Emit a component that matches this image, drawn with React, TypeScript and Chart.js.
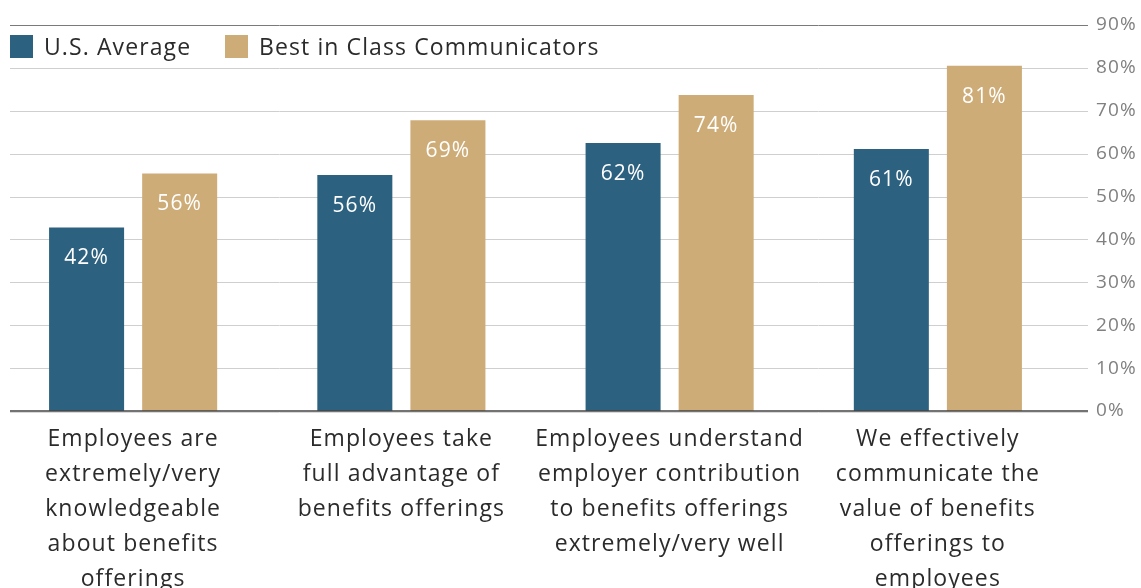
import React, { useEffect, useRef } from "react";
import { Chart, registerables } from "chart.js";

Chart.register(...registerables);

const categories: string[][] = [
  ["Employees are", "extremely/very", "knowledgeable", "about benefits", "offerings"],
  ["Employees take", "full advantage of", "benefits offerings"],
  ["Employees understand", "employer contribution", "to benefits offerings", "extremely/very well"],
  ["We effectively", "communicate the", "value of benefits", "offerings to", "employees"],
];
const seriesNames = ["U.S. Average", "Best in Class Communicators"];
const usAverage = [42.8, 55.0, 62.5, 61.1];
const bestInClass = [55.4, 67.8, 73.7, 80.5];
const usLabels = ["42%", "56%", "62%", "61%"];
const bestLabels = ["56%", "69%", "74%", "81%"];
const yMin = 0;
const yMax = 90;
const yStep = 10;

const NAVY = "#2C6180";
const TAN = "#CEAC77";
const FONT = "'Open Sans', Lato, sans-serif";

const CANVAS_W = 1142;
const CANVAS_H = 620;
const PLOT_BOTTOM = 411;
const PLOT_RIGHT = 1073;

const gridPlugin = {
  id: "customGrid",
  beforeDraw(chart: any) {
    chart.ctx.letterSpacing = "1.1px";
  },
  beforeDatasetsDraw(chart: any) {
    const { ctx } = chart;
    const y = chart.scales.y;
    ctx.save();
    y.ticks.forEach((t: any) => {
      const py = Math.round(y.getPixelForValue(t.value)) + 0.5;
      if (t.value === yMin) return;
      ctx.strokeStyle = t.value === yMax ? "#7a7a7a" : "#cfcfcf";
      ctx.lineWidth = 1;
      ctx.beginPath();
      ctx.moveTo(11, py);
      ctx.lineTo(1089, py);
      ctx.stroke();
    });
    ctx.restore();
  },
  afterDatasetsDraw(chart: any) {
    const { ctx } = chart;
    const y = chart.scales.y;
    const py = y.getPixelForValue(yMin);
    ctx.save();
    ctx.strokeStyle = "#d8d8d8";
    ctx.lineWidth = 1;
    ctx.beginPath();
    ctx.moveTo(11, py + 1.5);
    ctx.lineTo(1089, py + 1.5);
    ctx.stroke();
    ctx.strokeStyle = "#444444";
    ctx.lineWidth = 1.6;
    ctx.beginPath();
    ctx.moveTo(11, py);
    ctx.lineTo(1089, py);
    ctx.stroke();
    const labelSets = [usLabels, bestLabels];
    ctx.fillStyle = "#ffffff";
    ctx.font = `21px ${FONT}`;
    ctx.textAlign = "center";
    ctx.textBaseline = "middle";
    chart.data.datasets.forEach((_: any, di: number) => {
      const meta = chart.getDatasetMeta(di);
      meta.data.forEach((el: any, i: number) => {
        ctx.fillText(labelSets[di][i], el.x, el.y + 31);
      });
    });
    ctx.restore();
  },
  afterDraw(chart: any) {
    const { ctx } = chart;
    ctx.save();
    ctx.font = `23px ${FONT}`;
    ctx.textBaseline = "middle";
    ctx.textAlign = "left";
    const colors = [NAVY, TAN];
    const xs = [11, 226];
    seriesNames.forEach((name, i) => {
      ctx.fillStyle = colors[i];
      ctx.fillRect(xs[i], 35, 23, 23);
      ctx.fillStyle = "#2b2b2b";
      ctx.fillText(name, xs[i] + 34, 48);
    });
    ctx.restore();
  },
};

export default function App() {
  const ref = useRef<HTMLCanvasElement>(null);
  useEffect(() => {
    if (!ref.current) return;
    const chart = new Chart(ref.current, {
      type: "bar",
      data: {
        labels: categories,
        datasets: [
          {
            label: seriesNames[0],
            data: usAverage,
            backgroundColor: NAVY,
            categoryPercentage: 0.694,
            barPercentage: 0.806,
          },
          {
            label: seriesNames[1],
            data: bestInClass,
            backgroundColor: TAN,
            categoryPercentage: 0.694,
            barPercentage: 0.806,
          },
        ],
      },
      options: {
        responsive: false,
        animation: false,
        layout: { padding: { top: 25, left: 0, right: 0, bottom: 0 } },
        plugins: {
          legend: { display: false },
          tooltip: { enabled: false },
        },
        scales: {
          x: {
            grid: { display: false, drawTicks: false },
            border: { display: false },
            ticks: {
              color: "#2b2b2b",
              font: { family: FONT, size: 23, lineHeight: 35 / 23 },
              padding: 11,
              maxRotation: 0,
              autoSkip: false,
            },
            afterFit(scale: any) {
              scale.height = CANVAS_H - PLOT_BOTTOM;
            },
          },
          y: {
            position: "right",
            min: yMin,
            max: yMax,
            grid: { display: false, drawTicks: false },
            border: { display: false },
            ticks: {
              stepSize: yStep,
              color: "#808080",
              font: { family: FONT, size: 19 },
              padding: 24,
              callback: (v: any) => `${v}%`,
            },
            afterFit(scale: any) {
              scale.width = CANVAS_W - PLOT_RIGHT;
              scale.paddingTop = 0;
              scale.paddingBottom = 0;
            },
          },
        },
      },
      plugins: [gridPlugin],
    });
    return () => chart.destroy();
  }, []);

  return (
    <div
      style={{
        position: "absolute",
        left: -1,
        top: 0,
        width: CANVAS_W,
        height: 588,
        overflow: "hidden",
        background: "#ffffff",
      }}
    >
      <canvas ref={ref} width={CANVAS_W} height={CANVAS_H} style={{ display: "block" }} />
    </div>
  );
}
